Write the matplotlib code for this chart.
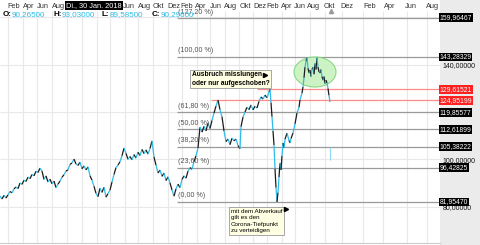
import matplotlib.pyplot as plt
import matplotlib.patches as patches
from matplotlib.collections import LineCollection
import numpy as np

plt.rcParams['font.family'] = ['Liberation Sans', 'DejaVu Sans']

# chart position (bar index on the time scale) and price
pos = [0, 2, 4, 6, 8, 10, 12, 14, 16, 18, 20, 22, 24, 26, 28, 30, 32, 34, 36, 38, 40,
       42, 44, 46, 48, 50, 52, 54, 56, 58, 60, 62, 64, 66, 68, 70, 72, 74, 76, 78, 80,
       82, 84, 86, 88, 90, 92, 94, 96, 98, 100, 102, 104, 106, 108, 110, 112, 114, 116,
       118, 120, 122, 124, 126, 128, 130, 132, 134, 136, 138, 140, 142, 144, 146, 148,
       150, 152, 154, 156, 158, 160, 162, 164, 166, 168, 170, 172, 174, 176, 178, 180,
       182, 184, 186, 188, 190, 192, 194, 196, 198, 200, 202, 204, 206, 208, 210, 212,
       214, 216, 218, 220, 222, 224, 226, 228, 230, 232, 234, 236, 238, 240, 241, 243,
       245, 247, 249, 251, 253, 255, 257, 259, 261, 263, 265, 267, 269, 270, 271, 272,
       273, 274, 275, 276, 277, 278, 279, 280, 281, 282, 283, 284, 285, 287, 289, 290,
       291, 293, 295, 297, 299, 300, 302, 303, 304, 305, 306, 307, 308, 309, 310, 311,
       312, 313, 314, 315, 316, 317, 318, 319, 320, 321, 322, 323, 324, 325, 326, 327,
       328, 329, 330]
close = [84.5, 83.2, 84.8, 83.6, 85.0, 86.4, 85.8, 87.5, 88.3, 87.6, 90.0, 89.4, 91.2,
         90.6, 92.5, 91.8, 93.6, 93.0, 95.0, 94.4, 96.3,
         95.0, 91.5, 93.0, 90.4, 91.6, 89.6, 90.8, 88.0, 89.5, 90.8, 92.4, 93.5, 95.0,
         95.6, 97.8, 98.5, 100.1, 98.0, 97.4, 98.8,
         96.0, 97.2, 95.5, 96.8, 93.0, 91.2, 88.6, 85.6, 84.2, 87.8, 86.0, 88.2, 84.0,
         85.5, 87.0, 90.4, 93.6, 96.5,
         97.6, 99.0, 101.5, 104.8, 102.5, 100.0, 101.2, 99.8, 102.0, 100.5, 103.0, 101.6,
         104.2, 102.4, 104.0, 102.2,
         104.6, 107.8, 101.0, 97.5, 94.2, 95.5, 92.8, 94.2, 91.0, 92.6, 90.0, 87.0, 84.4,
         87.5, 89.5, 88.0,
         91.5, 93.0, 92.0, 95.0, 96.5, 95.8, 99.0, 101.5, 104.8, 113.6, 111.5, 114.0,
         112.0, 115.4, 113.0, 116.5,
         119.6, 122.5, 125.1, 121.0, 118.0, 112.0, 107.5, 108.6, 106.2, 109.0, 107.8,
         108.6, 105.8, 104.5, 113.8, 117.9,
         120.0, 122.1, 121.0, 123.0, 120.9, 122.5, 121.7, 124.5, 126.4, 125.5, 127.2,
         126.0, 128.5, 129.7, 124.0, 118.0,
         112.0, 106.0, 96.0, 88.0, 82.0, 86.0, 92.5, 98.4, 95.5, 101.5, 106.9, 104.8,
         108.5, 111.1, 108.0, 106.9,
         108.8, 111.1, 115.0, 119.6, 122.0, 125.1, 128.0, 130.6, 134.5, 139.0, 141.5,
         142.9, 138.5, 136.5, 137.8, 135.0,
         138.0, 139.0, 136.0, 140.5, 138.0, 143.0, 139.0, 137.0, 136.5, 138.0, 135.0,
         133.5, 135.0, 132.0, 133.5, 132.3,
         130.0, 127.0, 124.2]

# month labels on the time scale (the four under the date box are hidden)
month_labels = ['Feb', 'Apr', 'Jun', 'Aug', '', '', '', '', 'Jun', 'Aug',
                'Okt', 'Dez', 'Feb', 'Apr', 'Jun', 'Aug', 'Okt', 'Dez', 'Feb', 'Apr',
                'Jun', 'Aug', 'Okt', 'Dez', 'Feb', 'Apr', 'Jun', 'Aug']
month_pos = [14, 29, 43, 58, 72, 87, 101, 116, 129, 144, 158, 174, 187, 201, 216, 230,
             245, 260, 273, 287, 300, 313, 329, 347, 370, 390, 411, 432]
grid_pos = [8, 23, 37, 52, 67, 82, 97, 110, 125, 138, 153, 168, 182, 197, 210, 225,
            239, 253, 267, 282, 295, 310, 325, 342, 363, 383, 407, 427]

# fibonacci retracement
fib_low = 81.95470
fib_high = 143.28329
fib_ratios = [0.0, 23.6, 38.2, 50.0, 61.8, 100.0, 127.2]
fib_start = 177

# red resistance lines
red_levels = [129.61521, 124.95199]
red_start = [257, 211]

header_vals = [('O:', '90,26500'), ('H:', '93,03000'), ('L:', '89,58500'), ('C:', '90,29600')]

CYAN = '#2ebde8'


def de(v, nd=5):
    return f"{v:.{nd}f}".replace('.', ',')


fig = plt.figure(figsize=(4.8, 2.45), dpi=100)
fig.add_artist(patches.Rectangle((440 / 480, 0), 40 / 480, 1, transform=fig.transFigure,
                                 facecolor='#ebebeb', edgecolor='none', zorder=-1))
ax = fig.add_axes([0, 2 / 245, 440 / 480, 243 / 245])
ax.set_xlim(0, 440)
ax.set_ylim(64.6, 167.4)
for side in ['top', 'left', 'right']:
    ax.spines[side].set_visible(False)
ax.spines['bottom'].set_color('#cccccc')

# month ticks at the top, inside the plot
ax.set_xticks(month_pos)
ax.set_xticklabels(month_labels)
ax.tick_params(axis='x', which='both', top=False, bottom=False, labelbottom=False,
               labeltop=True, pad=-7.5, labelsize=5.3, labelcolor='#333333', length=0)

# right scale: 120 and 160 sit under the level boxes, so leave them blank
yt = [80, 100, 120, 140, 160]
ax.set_yticks(yt)
ax.set_yticklabels([de(v) if v in (80, 100, 140) else '' for v in yt])
ax.yaxis.tick_right()
ax.tick_params(axis='y', length=0, pad=2, labelsize=5.0, labelcolor='#111111')

gtop = 167.4 - 11 / 2.364
ax.vlines(grid_pos, 64.6, gtop, colors='#e8e8e8', lw=0.8, zorder=0)
ax.hlines(yt, 0, 440, colors='#e8e8e8', lw=0.8, zorder=0)

# fib levels
fib_prices = [fib_low + r / 100 * (fib_high - fib_low) for r in fib_ratios]
ax.hlines(fib_prices, fib_start, 440, colors='#9a9a9a', lw=0.9, zorder=1)
for r, p in zip(fib_ratios, fib_prices):
    dy = 0.6 if r > 100 else 1.2
    ax.text(fib_start + 1, p + dy, f"({de(r, 2)} %)", fontsize=5.1, color='#555555',
            ha='left', va='bottom', zorder=4)

ax.hlines(red_levels, red_start, 440, colors='#ff8c8c', lw=0.9, zorder=1)

# green ellipse around the top
ax.add_patch(patches.Ellipse((315, 136.94), 42, 12.7, facecolor='#c8f2bf',
                             edgecolor='#7fd67a', lw=0.8, alpha=0.9, zorder=1))

# price line, candles alternate between cyan and black
pts = np.column_stack([pos, close])
segs = np.stack([pts[:-1], pts[1:]], axis=1)
cols = [CYAN if i % 2 == 0 else '#1c1c1c' for i in range(len(segs))]
ax.add_collection(LineCollection(segs, colors=cols, linewidths=0.9, zorder=3))
ax.vlines(330, 99.7, 105.2, colors='#8fd6f0', lw=0.8, zorder=3)

# right-hand price labels
for p in fib_prices:
    ax.text(439.5, p, de(p), fontsize=4.9, color='white', ha='left', va='center',
            clip_on=False, zorder=5,
            bbox=dict(boxstyle='square,pad=0.12', facecolor='black', edgecolor='none'))
for p in red_levels:
    ax.text(439.5, p, de(p), fontsize=4.9, color='white', ha='left', va='center',
            clip_on=False, zorder=5,
            bbox=dict(boxstyle='square,pad=0.12', facecolor='#ff2020', edgecolor='none'))

# header row
xtr = ax.get_xaxis_transform()
ax.text(94, 0.978, 'Di., 30 Jan. 2018', transform=xtr, fontsize=5.3, color='white',
        ha='center', va='center', zorder=6,
        bbox=dict(boxstyle='square,pad=0.15', facecolor='black', edgecolor='none'))
for (lab, val), x0 in zip(header_vals, [3, 53, 101, 152]):
    ax.text(x0, 0.94, lab, transform=xtr, fontsize=5.8, fontweight='bold', color='black',
            ha='left', va='center', zorder=6)
    ax.text(x0 + 8.5, 0.94, val, transform=xtr, fontsize=5.8, color=CYAN,
            ha='left', va='center', zorder=6)
ax.plot([331], [0.955], transform=xtr, marker='^', ms=3, color='#999999', zorder=6)

# notes
ax.text(192, 133.98, 'Ausbruch misslungen\noder nur aufgeschoben?', fontsize=4.8,
        fontweight='bold', ha='left', va='center', linespacing=1.25, zorder=6,
        bbox=dict(boxstyle='square,pad=0.25', facecolor='#ffffe3', edgecolor='#999999', lw=0.6))
ax.plot([265], [135.67], marker='>', ms=3, color='black', zorder=6)
ax.text(231, 73.91, 'mit dem Abverkauf\ngilt es den\nCorona-Tiefpunkt\nzu verteidigen',
        fontsize=4.5, ha='left', va='center', linespacing=1.35, zorder=6,
        bbox=dict(boxstyle='square,pad=0.25', facecolor='#ffffe3', edgecolor='#999999', lw=0.6))
ax.plot([286], [78.99], marker='>', ms=3, color='black', zorder=6)

fig.savefig('out.png', dpi=100)
